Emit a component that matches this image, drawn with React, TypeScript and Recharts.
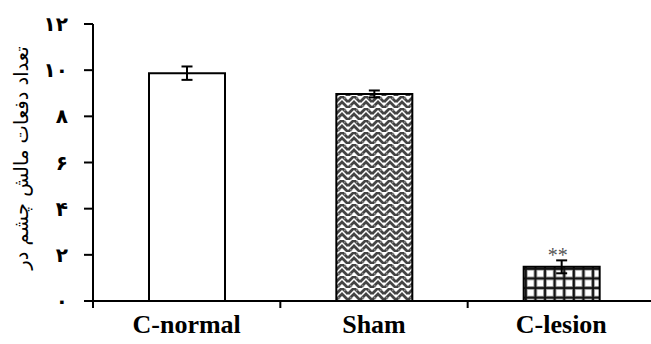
import { Bar, BarChart, Cell, ErrorBar, LabelList, XAxis, YAxis } from 'recharts';

const groups = ['C-normal', 'Sham', 'C-lesion'];
const means = [9.87, 8.97, 1.48];
const errors = [0.29, 0.15, 0.28];
const marks = ['', '', '**'];
const yTicks = [0, 2, 4, 6, 8, 10, 12];
const yTitle = 'تعداد دفعات مالش چشم در';

const fills = ['#ffffff', 'url(#sham)', 'url(#lesion)'];

const data = groups.map((g, i) => ({ name: g, value: means[i], err: errors[i], mark: marks[i] }));

const toFa = (n: number) => String(n).replace(/\d/g, (d) => '۰۱۲۳۴۵۶۷۸۹'[+d]);

const W = 660;
const H = 344;
const LEFT = 93;
const RIGHT = 5;
const BAND = (W - LEFT - RIGHT) / groups.length;
const SERIF = '"Liberation Serif", "DejaVu Serif", serif';

function XTick(props: any) {
    const { x, y, payload } = props;
    return (
        <g>
            <line x1={x - BAND / 2} y1={y} x2={x - BAND / 2} y2={y + 7} stroke="#000" strokeWidth={2} />
            <text
                x={x}
                y={y + 32}
                textAnchor="middle"
                fontFamily={SERIF}
                fontWeight={700}
                fontSize={26}
                fill="#000"
            >
                {payload.value}
            </text>
        </g>
    );
}

function MarkLabel(props: any) {
    const { x, y, width, value } = props;
    if (!value) return null;
    return (
        <text x={x + width / 2 - 4} y={y - 5} textAnchor="middle" fontFamily={SERIF} fontSize={20} fill="#555">
            {value}
        </text>
    );
}

function YTitle() {
    return (
        <text
            x={21}
            y={158}
            transform="rotate(-90, 21, 158)"
            textAnchor="middle"
            dominantBaseline="central"
            fontFamily='"DejaVu Sans", sans-serif'
            fontSize={19.5}
            fill="#000"
        >
            {yTitle}
        </text>
    );
}

export default function App() {
    return (
        <div style={{ position: 'absolute', left: 0, top: 0, width: 651, height: 344, overflow: 'hidden', background: '#fff' }}>
            <BarChart width={W} height={H} data={data} margin={{ top: 24, right: RIGHT, left: 0, bottom: 0 }}>
                <defs>
                    <pattern id="sham" patternUnits="userSpaceOnUse" width="12" height="12">
                        <rect width="12" height="12" fill="#fff" />
                        <path d="M0,12 L6,6 L12,12 M0,6 L6,0 L12,6" stroke="#444" strokeWidth={2.8} fill="none" />
                        <path d="M2,9 L4,11 M8,3 L10,1" stroke="#888" strokeWidth={1.2} fill="none" />
                    </pattern>
                    <pattern id="lesion" patternUnits="userSpaceOnUse" width="9.6" height="9.6" x="524" y="267">
                        <rect width="9.6" height="9.6" fill="#fff" />
                        <rect x="0" y="0" width="3.6" height="9.6" fill="#999" />
                        <rect x="0" y="0" width="9.6" height="3.6" fill="#999" />
                        <rect x="0.8" y="0" width="2" height="9.6" fill="#111" />
                        <rect x="0" y="0.8" width="9.6" height="2" fill="#111" />
                    </pattern>
                </defs>
                <XAxis
                    dataKey="name"
                    height={H - 301}
                    axisLine={{ stroke: '#000', strokeWidth: 2 }}
                    tickLine={false}
                    tickSize={0}
                    tickMargin={0}
                    tick={<XTick />}
                    interval={0}
                />
                <YAxis
                    width={LEFT}
                    domain={[0, 12]}
                    ticks={yTicks}
                    interval={0}
                    tickFormatter={toFa}
                    axisLine={{ stroke: '#000', strokeWidth: 2 }}
                    tickLine={{ stroke: '#000', strokeWidth: 2 }}
                    tickSize={9}
                    tickMargin={16}
                    tick={{ fill: '#000', fontFamily: '"DejaVu Sans", sans-serif', fontWeight: 'bold', fontSize: 20 }}
                    label={<YTitle />}
                />
                <Bar dataKey="value" barSize={76} stroke="#000" strokeWidth={2} isAnimationActive={false}>
                    {data.map((d, i) => (
                        <Cell key={d.name} fill={fills[i]} />
                    ))}
                    <ErrorBar dataKey="err" width={5.5} stroke="#000" strokeWidth={2} direction="y" />
                    <LabelList dataKey="mark" content={<MarkLabel />} />
                </Bar>
            </BarChart>
        </div>
    );
}
